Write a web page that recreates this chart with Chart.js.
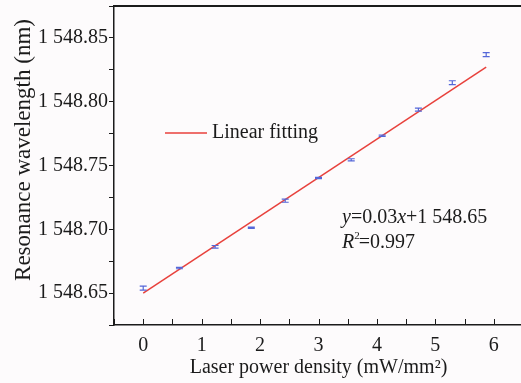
<!DOCTYPE html>
<html>
<head>
<meta charset="utf-8">
<script src="https://cdn.jsdelivr.net/npm/chart.js@4.4.1/dist/chart.umd.min.js"></script>
<style>
  html, body { margin: 0; padding: 0; background: #fdfbfc; }
  #wrap { width: 521px; height: 383px; overflow: hidden; position: relative; }
  canvas { display: block; }
</style>
</head>
<body>
<div id="wrap"><canvas id="c" width="540" height="383" style="width:540px;height:383px"></canvas></div>
<script>
// ---- data ----
const powerDensity = [0, 0.62, 1.23, 1.85, 2.43, 3.0, 3.56, 4.09, 4.71, 5.29, 5.87];
const wavelength   = [1548.6539, 1548.6696, 1548.6863, 1548.7012, 1548.7224, 1548.7402,
                      1548.7545, 1548.7734, 1548.7938, 1548.8149, 1548.8369];
const wavelengthErr = [0.0015, 0.0005, 0.001, 0.0005, 0.0012, 0.0005, 0.0008, 0.0005, 0.0012, 0.0015, 0.0015];
const fitX = [0, 5.87];
const fitY = [1548.65, 1548.827];
const xTickValues = [-0.5, 0, 0.5, 1, 1.5, 2, 2.5, 3, 3.5, 4, 4.5, 5, 5.5, 6, 6.5];
const yTickValues = [1548.625, 1548.65, 1548.675, 1548.70, 1548.725, 1548.75, 1548.775, 1548.80, 1548.825, 1548.85, 1548.875];
const xTitle = 'Laser power density (mW/mm\u00B2)';
const yTitle = 'Resonance wavelength (nm)';
const fitLabel = 'Linear fitting';
const eqSlope = '0.03', eqIntercept = '1 548.65', eqR2 = '0.997';

const SERIF = '"Liberation Serif", "Times New Roman", serif';
const BLUE = '#5467d8';
const RED = '#e8413c';
const INK = '#1b1b1b';

function fmtWave(v) {
  const s = v.toFixed(2);
  return s.slice(0, 1) + ' ' + s.slice(1);
}
function isMajorY(v) { return Math.abs(v * 20 - Math.round(v * 20)) < 1e-6; }

const bgPlugin = {
  id: 'bg',
  beforeDraw(chart) {
    const ctx = chart.ctx;
    ctx.save();
    ctx.fillStyle = '#fdfbfc';
    ctx.fillRect(0, 0, chart.width, chart.height);
    ctx.restore();
  }
};

const decorPlugin = {
  id: 'decor',
  afterDraw(chart) {
    const ctx = chart.ctx;
    const a = chart.chartArea;
    const xs = chart.scales.x;
    ctx.save();
    // top frame
    ctx.strokeStyle = INK;
    ctx.lineWidth = 2;
    ctx.beginPath();
    ctx.moveTo(a.left - 1, a.top);
    ctx.lineTo(a.right, a.top);
    ctx.stroke();
    // inward x ticks
    ctx.lineWidth = 1;
    xTickValues.forEach(v => {
      const px = Math.round(xs.getPixelForValue(v)) + 0.5;
      ctx.beginPath();
      ctx.moveTo(px, a.bottom);
      ctx.lineTo(px, a.bottom - 6);
      ctx.stroke();
    });
    // y axis title
    ctx.fillStyle = INK;
    ctx.font = '23px ' + SERIF;
    ctx.textAlign = 'center';
    ctx.textBaseline = 'middle';
    ctx.translate(24, 150);
    ctx.rotate(-Math.PI / 2);
    ctx.fillText(yTitle, 0, 0);
    ctx.restore();

    // legend
    ctx.save();
    const ds = chart.data.datasets[1];
    ctx.strokeStyle = ds.borderColor;
    ctx.lineWidth = 1.5;
    ctx.beginPath();
    ctx.moveTo(165, 133);
    ctx.lineTo(207, 133);
    ctx.stroke();
    ctx.fillStyle = INK;
    ctx.font = '20px ' + SERIF;
    ctx.textAlign = 'left';
    ctx.textBaseline = 'middle';
    ctx.fillText(ds.label, 212, 133);

    // equation
    ctx.textBaseline = 'alphabetic';
    let x = 342, y = 223;
    const it = 'italic 20px ' + SERIF, rm = '20px ' + SERIF;
    const parts = [[it, 'y'], [rm, '=' + eqSlope], [it, 'x'], [rm, '+' + eqIntercept]];
    parts.forEach(([f, t]) => { ctx.font = f; ctx.fillText(t, x, y); x += ctx.measureText(t).width; });
    x = 342; y = 248;
    ctx.font = it; ctx.fillText('R', x, y); x += ctx.measureText('R').width;
    ctx.font = '11px ' + SERIF; ctx.fillText('2', x, y - 9); x += ctx.measureText('2').width - 1;
    ctx.font = rm; ctx.fillText('=' + eqR2, x, y);
    ctx.restore();
  }
};

const errorBarPlugin = {
  id: 'errbars',
  afterDatasetsDraw(chart) {
    const ctx = chart.ctx;
    const xs = chart.scales.x, ys = chart.scales.y;
    ctx.save();
    ctx.strokeStyle = BLUE;
    ctx.lineWidth = 1.2;
    powerDensity.forEach((xv, i) => {
      const px = xs.getPixelForValue(xv);
      const yTop = ys.getPixelForValue(wavelength[i] + wavelengthErr[i]);
      const yBot = ys.getPixelForValue(wavelength[i] - wavelengthErr[i]);
      ctx.beginPath();
      ctx.moveTo(px, yTop); ctx.lineTo(px, yBot);
      ctx.moveTo(px - 3.5, yTop); ctx.lineTo(px + 3.5, yTop);
      ctx.moveTo(px - 3.5, yBot); ctx.lineTo(px + 3.5, yBot);
      ctx.stroke();
    });
    ctx.restore();
  }
};

new Chart(document.getElementById('c'), {
  type: 'scatter',
  data: {
    datasets: [
      {
        label: 'Measured',
        data: powerDensity.map((x, i) => ({ x, y: wavelength[i] })),
        pointRadius: 0,
        borderColor: BLUE,
        backgroundColor: BLUE
      },
      {
        label: fitLabel,
        type: 'line',
        data: fitX.map((x, i) => ({ x, y: fitY[i] })),
        borderColor: RED,
        borderWidth: 1.5,
        pointRadius: 0,
        fill: false,
        tension: 0
      }
    ]
  },
  options: {
    responsive: false,
    animation: false,
    devicePixelRatio: 1,
    layout: { padding: { top: 6, right: 17, left: 0, bottom: 0 } },
    plugins: { legend: { display: false }, tooltip: { enabled: false } },
    scales: {
      x: {
        type: 'linear',
        min: -0.5, max: 6.5,
        afterFit(scale) { scale.height = 58; scale.paddingLeft = 0; scale.paddingRight = 0; },
        afterBuildTicks(scale) { scale.ticks = xTickValues.map(v => ({ value: v })); },
        grid: { display: false },
        border: { display: true, color: INK, width: 1.5 },
        ticks: {
          autoSkip: false, maxRotation: 0, padding: 1,
          color: INK, font: { family: SERIF, size: 20 },
          callback: v => (Number.isInteger(v) && v >= 0 ? String(v) : '')
        },
        title: {
          display: true, text: xTitle, color: INK,
          font: { family: SERIF, size: 20 }, padding: { top: 0, bottom: 3 }
        }
      },
      y: {
        type: 'linear',
        min: 1548.625, max: 1548.875,
        afterFit(scale) { scale.width = 114; scale.paddingTop = 0; scale.paddingBottom = 0; },
        afterBuildTicks(scale) { scale.ticks = yTickValues.map(v => ({ value: v })); },
        grid: { display: true, drawOnChartArea: false, drawTicks: true, tickLength: 5, color: INK, lineWidth: 1 },
        border: { display: true, color: INK, width: 1.5 },
        ticks: {
          autoSkip: false, padding: 1,
          color: INK, font: { family: SERIF, size: 20 },
          callback: v => (isMajorY(v) ? fmtWave(v) : '')
        }
      }
    }
  },
  plugins: [bgPlugin, errorBarPlugin, decorPlugin]
});
</script>
</body>
</html>
